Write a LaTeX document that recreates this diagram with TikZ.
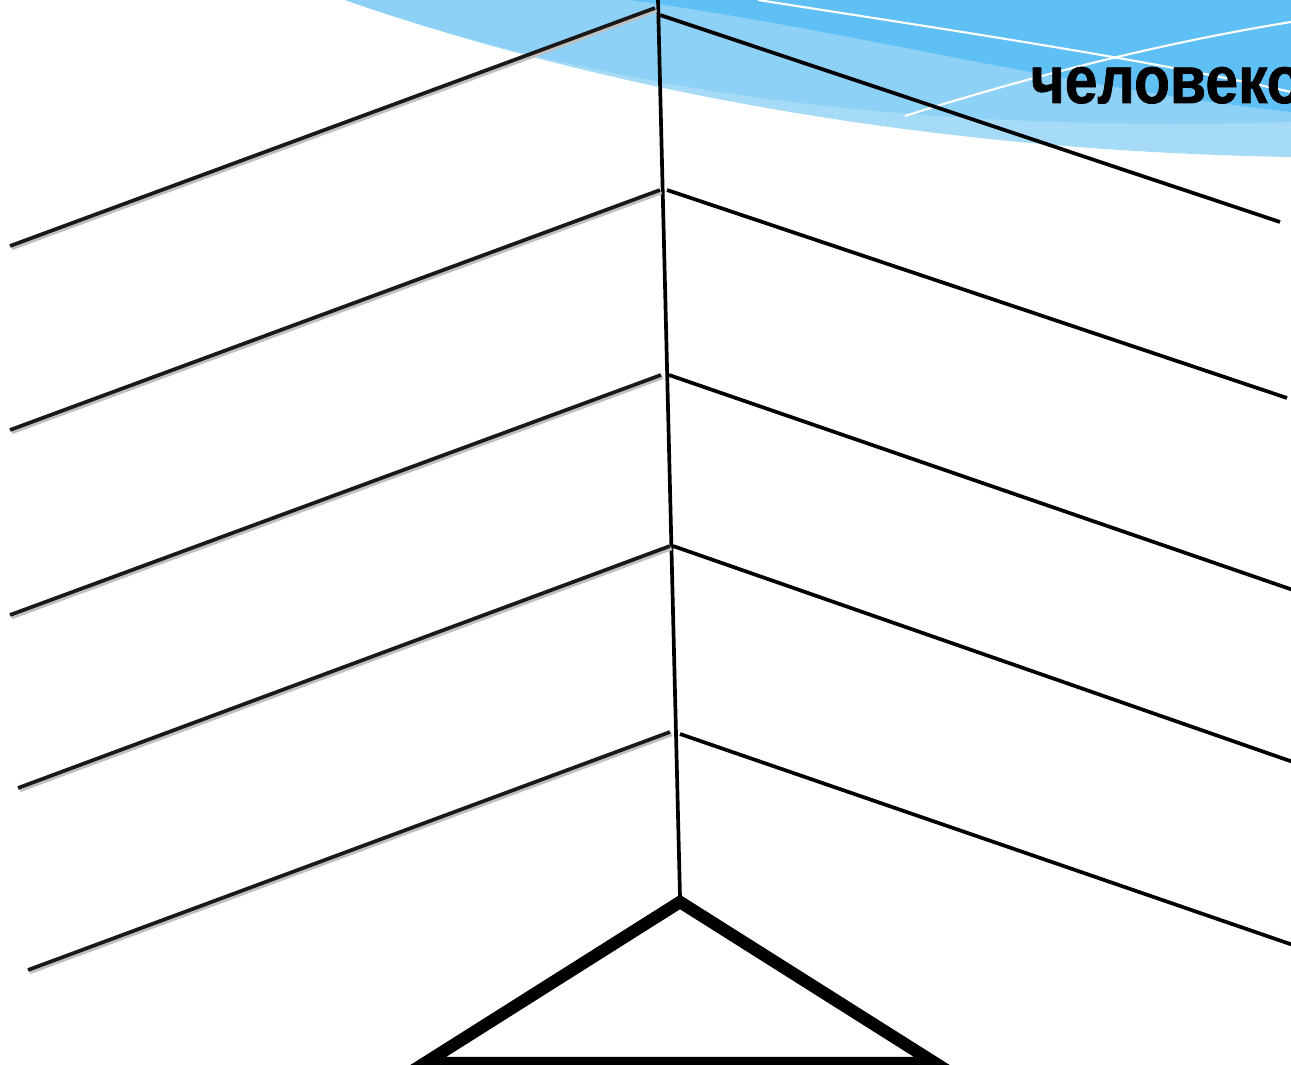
\documentclass[tikz,border=0pt]{standalone}
\usepackage{fontspec}
\setmainfont{Liberation Sans}
\newfontfamily\titlefont[BoldFeatures={FakeBold=1.2}]{Liberation Sans}
\begin{document}
\begin{tikzpicture}[x=0.01cm,y=-0.01cm,
  bone/.style={line width=1.05pt,black},
  lbone/.style={line width=1.05pt,black!90},
  shadow/.style={line width=1.3pt,black!25},
  tri/.style={line width=3.5pt,black,line join=miter},
  wl/.style={white,line width=0.6pt}]
\useasboundingbox (0,0) rectangle (1291,1065);
\clip (0,0) rectangle (1291,1065);
% swoosh
\fill[color={rgb,255:red,166;green,219;blue,248}] (345,0) .. controls (560,75) and (880,150) .. (1291,157) -- (1291,0) -- cycle;
\fill[color={rgb,255:red,141;green,209;blue,246}] (345,0) .. controls (560,75) and (850,135) .. (1291,122) -- (1291,0) -- cycle;
\fill[color={rgb,255:red,95;green,192;blue,245}] (630,0) .. controls (850,30) and (1050,85) .. (1291,112) -- (1291,0) -- cycle;
\draw[wl] (758,0) .. controls (950,30) and (1150,60) .. (1291,92);
\draw[wl] (905,116) .. controls (1050,70) and (1180,40) .. (1291,22);
\node[anchor=base west,inner sep=0pt,xscale=0.88,font=\titlefont\fontsize{19}{22}\selectfont\bfseries] (title) at (1030,103) {человеко};
% spine
\coordinate (s0) at (658,0);
\coordinate (s6) at (680,897);
\draw[bone] (s0) -- (s6);
% left branches
\foreach \i/\ax/\ay/\bx/\by in {1/655/8/10/246, 2/660/190/10/430, 3/661/375/10/615, 4/670/546/18/788, 5/670/732/28/970}{
  \coordinate (la\i) at (\ax,\ay);
  \coordinate (lb\i) at (\bx,\by);
  \draw[shadow] ([shift={(1.5,2)}]la\i) -- ([shift={(1.5,2)}]lb\i);
  \draw[lbone] (la\i) -- (lb\i);
}
% right branches
\foreach \i/\ax/\ay/\bx/\by in {1/660/15/1280/222, 2/667/190/1287/398, 3/669/375/1293/590, 4/673/546/1293/762, 5/680/734/1293/945}{
  \coordinate (ra\i) at (\ax,\ay);
  \coordinate (rb\i) at (\bx,\by);
  \draw[bone] (ra\i) -- (rb\i);
}
% triangle
\coordinate (t1) at (680,902);
\coordinate (t2) at (425,1063);
\coordinate (t3) at (935,1063);
\draw[tri] (t1) -- (t2) -- (t3) -- cycle;
\end{tikzpicture}
\end{document}
